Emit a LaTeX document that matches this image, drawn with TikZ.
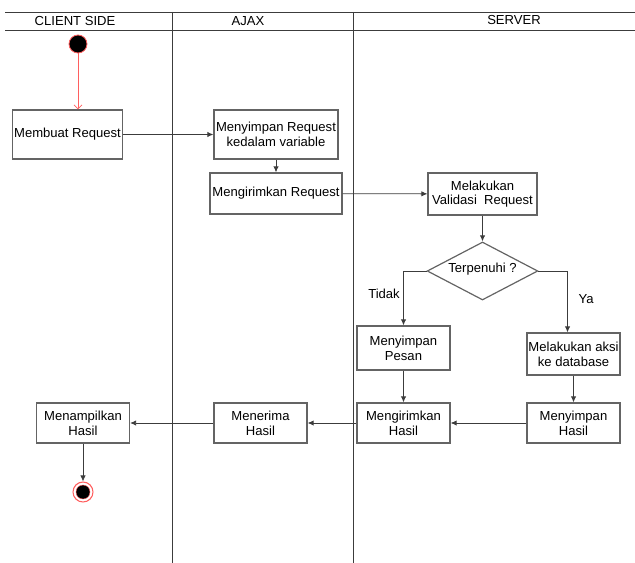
\documentclass[tikz,border=0pt]{standalone}
\usepackage{fontspec}
\setmainfont{Liberation Sans}
\usepackage{xcolor}
\usepackage{tikz}
\usetikzlibrary{shapes.geometric, arrows.meta, positioning, calc}
\definecolor{lanegray}{RGB}{60,60,60}
\definecolor{boxgray}{RGB}{100,100,100}
\definecolor{startred}{RGB}{255,95,95}
\tikzset{
    actbox/.style={draw=boxgray, line width=0.9pt, align=center, inner sep=1pt,
                   font=\fontsize{9.8}{11}\selectfont},
    decision/.style={diamond, draw=boxgray, line width=0.9pt, inner sep=0pt,
                     minimum width=83pt, minimum height=43.5pt},
    flow/.style={draw=lanegray, line width=0.6pt, -{Latex[length=4.5pt,width=4pt]}},
    lbl/.style={font=\fontsize{9.8}{11}\selectfont, inner sep=0pt},
}

\begin{document}
\begin{tikzpicture}[x=0.75pt, y=-0.75pt]
    \useasboundingbox (0,0) rectangle (635,563);
    \draw[lanegray, line width=0.6pt] (5,12) -- (635,12);
    \draw[lanegray, line width=0.6pt] (5,30) -- (635,30);
    \foreach \lx in {172,353}
        \draw[lanegray, line width=0.6pt] (\lx,12) -- (\lx,563);
    \node[lbl] (clienthead) at (75,21) {CLIENT SIDE};
    \node[lbl] (ajaxhead) at (248,21) {AJAX};
    \node[lbl] (serverhead) at (514,20) {SERVER};

    \node[circle, fill=black, draw=startred, line width=0.6pt, minimum size=13.5pt, inner sep=0pt] (start) at (78,44) {};
    \node[actbox, minimum width=81.75pt, minimum height=36.75pt] (makereq) at (67.5,134.5) {Membuat Request};
    \node[actbox, minimum width=93pt, minimum height=36.75pt] (storereq) at (276,134.5) {Menyimpan Request\\kedalam variable};
    \node[actbox, minimum width=99pt, minimum height=30.75pt] (sendreq) at (276,193.5) {Mengirimkan Request};
    \node[actbox, minimum width=81.75pt, minimum height=31.5pt] (validreq) at (482.5,194) {Melakukan\\Validasi~~Request};
    \node[decision] (check) at (482.5,271) {};
    \node[lbl] (checktext) at (482.5,269) {Terpenuhi ?};
    \node[lbl] (nolabel) at (384,294) {Tidak};
    \node[lbl] (yeslabel) at (586,299) {Ya};
    \node[actbox, minimum width=69.75pt, minimum height=33pt] (savemsg) at (403.5,348) {Menyimpan\\Pesan};
    \node[actbox, minimum width=69.75pt, minimum height=31.5pt] (dbaction) at (573.5,354) {Melakukan aksi\\ke database};
    \node[actbox, minimum width=69.75pt, minimum height=30pt] (saveres) at (573.5,423) {Menyimpan\\Hasil};
    \node[actbox, minimum width=69.75pt, minimum height=30pt] (sendres) at (403.5,423) {Mengirimkan\\Hasil};
    \node[actbox, minimum width=69.75pt, minimum height=30pt] (getres) at (260.5,423) {Menerima\\Hasil};
    \node[actbox, minimum width=69.75pt, minimum height=30pt] (showres) at (83,423) {Menampilkan\\Hasil};
    \node[circle, draw=startred, line width=0.8pt, fill=white, minimum size=15pt, inner sep=0pt] (finish) at (83,492) {};
    \node[circle, fill=black, draw=startred, line width=0.3pt, minimum size=10.5pt, inner sep=0pt] (finishdot) at (finish) {};

    \draw[startred, line width=0.6pt, -{Straight Barb[length=3pt,width=6pt]}] (start) -- (start |- makereq.north);
    \draw[flow] (makereq) -- (storereq);
    \draw[flow] (storereq) -- (sendreq);
    \draw[flow] (sendreq) -- (validreq);
    \draw[flow] (validreq) -- (check);
    \draw[flow] (check.west) -| (savemsg.north);
    \draw[flow] (check.east) -| ($(dbaction.north)+(-6,0)$);
    \draw[flow] (savemsg) -- (sendres);
    \draw[flow] (dbaction) -- (saveres);
    \draw[flow] (saveres) -- (sendres);
    \draw[flow] (sendres) -- (getres);
    \draw[flow] (getres) -- (showres);
    \draw[flow] (showres) -- (finish);
\end{tikzpicture}
\end{document}
